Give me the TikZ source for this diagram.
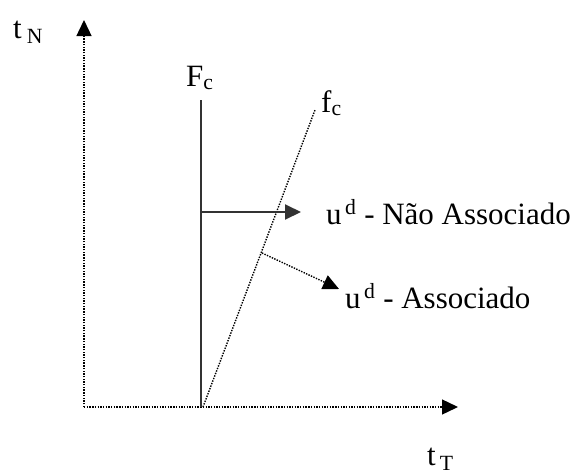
\documentclass[tikz,border=0pt]{standalone}
\usepackage{fontspec}
\setmainfont{Liberation Serif}
\usetikzlibrary{arrows.meta}
\begin{document}
\begin{tikzpicture}[x=1pt,y=-1pt,
  dotln/.style={line width=1.4pt,dash pattern=on 1.4pt off 1.3pt},
  tip/.style={-{Triangle[length=16pt,width=15pt]}},
  lbl/.style={inner sep=0pt,anchor=base west,font=\fontsize{31}{34}\selectfont}]
\useasboundingbox (0,0) rectangle (582,475);
% axes
\coordinate (O) at (84,407);
\coordinate (ytop) at (84,20);
\coordinate (xend) at (458,407);
\draw[dotln,tip] (O) -- (ytop);
\draw[dotln,tip] (O) -- (xend);
% Fc line
\coordinate (Fb) at (201,407);
\coordinate (Ft) at (201,100);
\draw[line width=2.2pt,black!80] (Fb) -- (Ft);
% fc line
\coordinate (fb) at (203,407);
\coordinate (ft) at (315,110);
\draw[dotln] (fb) -- (ft);
% non-associated arrow
\coordinate (na0) at (201,212);
\coordinate (na1) at (301,212);
\draw[line width=2pt,black!80,tip] (na0) -- (na1);
% associated arrow
\coordinate (a0) at (262,253);
\coordinate (a1) at (339,289);
\draw[dotln,tip] (a0) -- (a1);
% labels
\node[lbl] (tN) at (13,38) {t\,$_{\mathrm{N}}$};
\node[lbl] (Fc) at (186,86) {F$_{\mathrm{c}}$};
\node[lbl] (fc) at (321,112) {f$_{\mathrm{c}}$};
\node[lbl] (una) at (326,224) {u$^{\,\mathrm{d}}$ - Não Associado};
\node[lbl] (ua) at (345,308) {u$^{\,\mathrm{d}}$ - Associado};
\node[lbl] (tT) at (427,465) {t$\,_{\mathrm{T}}$};
\end{tikzpicture}
\end{document}
